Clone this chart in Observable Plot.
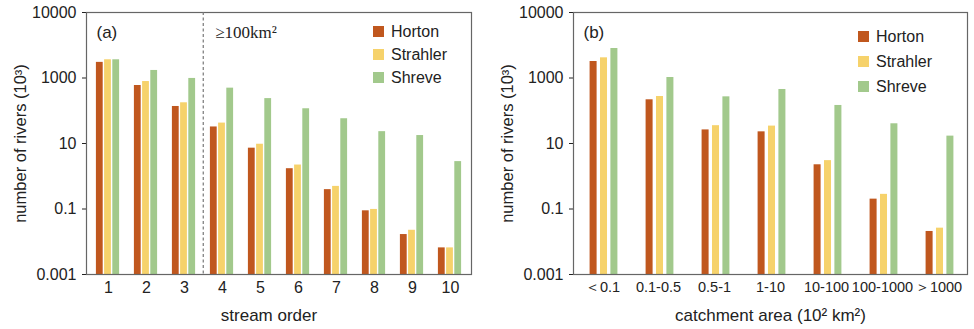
<!DOCTYPE html>
<html>
<head>
<meta charset="utf-8">
<script src="https://cdn.jsdelivr.net/npm/d3@7"></script>
<script src="https://cdn.jsdelivr.net/npm/@observablehq/plot@0.6"></script>
<style>
  body { margin: 0; background: #fff; font-family: "Liberation Sans", Arial, sans-serif; }
  #wrap { display: flex; width: 974px; height: 329px; }
  .panel { position: relative; width: 487px; height: 329px; }
  .legend { position: absolute; font-size: 16px; color: #222; }
  .legend .row { display: flex; align-items: center; }
  .legend .sw { width: 11px; height: 11px; margin-right: 7px; }
</style>
</head>
<body>
<div id="wrap">
  <div class="panel" id="pa"></div>
  <div class="panel" id="pb"></div>
</div>
<script>
// ---- data ----
const series = ["Horton", "Strahler", "Shreve"];
const colors = ["#c0571e", "#f6d26b", "#a2c98c"];

const streamOrders = ["1", "2", "3", "4", "5", "6", "7", "8", "9", "10"];
const hortonA   = [3000, 590, 135, 32, 7.2, 1.7, 0.39, 0.088, 0.0166, 0.0065];
const strahlerA = [3600, 780, 175, 42, 9.5, 2.2, 0.49, 0.097, 0.0224, 0.0065];
const shreveA   = [3600, 1700, 970, 490, 235, 115, 57, 23, 17.5, 2.8];

const areaClasses = ["<0.1", "0.1-0.5", "0.5-1", "1-10", "10-100", "100-1000", ">1000"];
const areaLabels  = ["\uFF1C0.1", "0.1-0.5", "0.5-1", "1-10", "10-100", "100-1000", "\uFF1E1000"];
const hortonB   = [3190, 216, 26, 22.7, 2.24, 0.2, 0.0206];
const strahlerB = [4130, 272, 35, 34, 3.0, 0.28, 0.026];
const shreveB   = [7950, 1035, 266, 446, 145, 40, 16.8];

const yTickValues = [0.001, 0.1, 10, 1000, 100000];
const yTickLabels = ["0.001", "0.1", "10", "1000", "10000"];
const yTitle = "number of rivers (10\u00B3)";

// ---- helpers ----
function makePanel(opts) {
  const {el, cats, catLabels, values, width, ml, mr, mt, mb, barW, step, shift, xLabel, xLabelDx, xFont, tag, extra, legendPos} = opts;
  const innerW = width - ml - mr;
  const bw = innerW / cats.length;
  const inset = (bw - barW) / 2;
  const marks = [];
  series.forEach((s, i) => {
    const data = cats.map((c, j) => ({cat: c, v: values[i][j]}));
    marks.push(Plot.barY(data, {
      x: "cat", y1: 0.001, y2: "v", fill: colors[i],
      insetLeft: inset, insetRight: inset, dx: (i - 1) * step + shift
    }));
  });
  marks.push(Plot.frame({stroke: "#666", strokeWidth: 1.2}));
  marks.push(Plot.text([tag], {frameAnchor: "top-left", lineAnchor: "middle", dx: 10, dy: 20, fontSize: 17, fill: "#222"}));
  marks.push(Plot.text([xLabel], {frameAnchor: "bottom", lineAnchor: "middle", dx: xLabelDx, dy: 41, fontSize: 17, fill: "#222"}));
  marks.push(Plot.text([yTitle], {frameAnchor: "left", textAnchor: "middle", lineAnchor: "middle", dx: -66, rotate: -90, fontSize: 16.5, fill: "#222"}));
  if (extra) extra(marks, bw);
  const fmt = d => yTickLabels[yTickValues.indexOf(d)];
  const chart = Plot.plot({
    width, height: 329,
    marginLeft: ml, marginRight: mr, marginTop: mt, marginBottom: mb,
    style: {fontFamily: "'Liberation Sans', Arial, sans-serif", fontSize: "16px", color: "#222", background: "transparent", overflow: "visible"},
    x: {axis: null, domain: cats, padding: 0},
    y: {axis: null, type: "log", domain: [0.001, 100000]},
    marks: [
      Plot.axisX({tickSize: 0, tickPadding: 7, fontSize: xFont, tickFormat: d => catLabels[cats.indexOf(d)], label: null}),
      Plot.axisY(yTickValues, {tickSize: 4, tickPadding: 6, fontSize: 16, tickFormat: fmt, label: null}),
      ...marks
    ]
  });
  el.appendChild(chart);
  const lg = document.createElement("div");
  lg.className = "legend";
  lg.style.left = legendPos[0] + "px";
  lg.style.top = legendPos[1] + "px";
  series.forEach((s, i) => {
    const r = document.createElement("div");
    r.className = "row";
    r.style.height = legendPos[2] + "px";
    const sw = document.createElement("div");
    sw.className = "sw";
    sw.style.background = colors[i];
    r.appendChild(sw);
    r.appendChild(document.createTextNode(s));
    lg.appendChild(r);
  });
  el.appendChild(lg);
}

makePanel({
  el: document.getElementById("pa"),
  cats: streamOrders, catLabels: streamOrders,
  values: [hortonA, strahlerA, shreveA],
  width: 487, ml: 86, mr: 16, mt: 12, mb: 55,
  barW: 7.3, step: 8.2, shift: -0.5,
  xLabel: "stream order", xLabelDx: -10, xFont: 16, tag: "(a)",
  legendPos: [373, 20, 23],
  extra: (marks, bw) => {
    marks.push(Plot.ruleX(["4"], {dx: -bw / 2, stroke: "#777", strokeDasharray: "3,2.5", strokeWidth: 1.2}));
    marks.push(Plot.text(["\u2265100km\u00B2"], {x: () => "4", frameAnchor: "top", lineAnchor: "middle", dx: -bw / 2 + 12, dy: 20, textAnchor: "start",
      fontFamily: "'Liberation Serif', 'DejaVu Serif', serif", fontSize: 17, fill: "#222"}));
  }
});

makePanel({
  el: document.getElementById("pb"),
  cats: areaClasses, catLabels: areaLabels,
  values: [hortonB, strahlerB, shreveB],
  width: 487, ml: 86, mr: 7, mt: 12, mb: 55,
  barW: 7.3, step: 10.4, shift: 1.5,
  xLabel: "catchment area (10\u00B2 km\u00B2)", xLabelDx: 0, xFont: 14.5, tag: "(b)",
  legendPos: [371, 24, 25]
});
</script>
</body>
</html>
